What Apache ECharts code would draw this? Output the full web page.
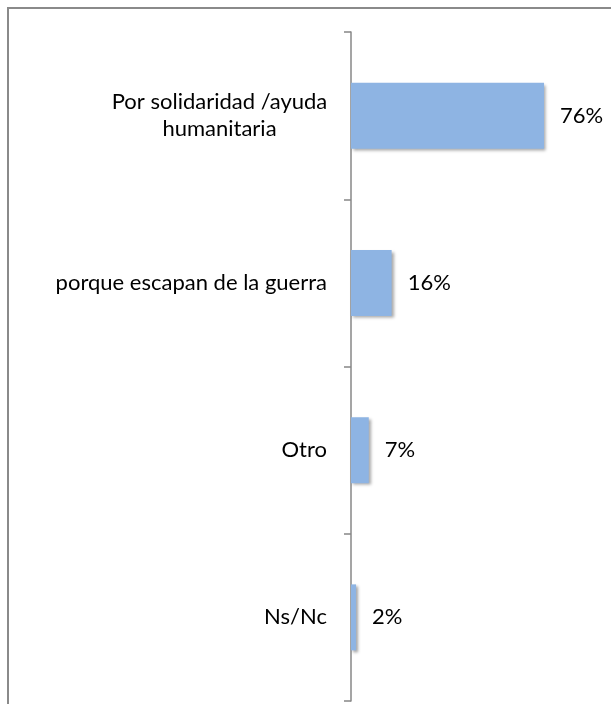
<!DOCTYPE html>
<html>
<head>
<meta charset="utf-8">
<script src="https://cdn.jsdelivr.net/npm/echarts@6/dist/echarts.min.js"></script>
<style>
  html, body { margin: 0; padding: 0; background: #fff; }
  #chart { width: 611px; height: 704px; }
</style>
</head>
<body>
<div id="chart"></div>
<script>
// data
const categories = ['Por solidaridad /ayuda\nhumanitaria', 'porque escapan de la guerra', 'Otro', 'Ns/Nc'];
const values = [76, 16, 7, 2];

const chart = echarts.init(document.getElementById('chart'));
const font = 'Lato';

const option = {
  animation: false,
  graphic: [
    {
      type: 'rect',
      shape: { x: 8, y: 8, width: 800, height: 900 },
      style: { fill: 'none', stroke: '#8a8a8a', lineWidth: 2 }
    }
  ],
  grid: { left: 351, right: 6, top: 32, bottom: 3 },
  xAxis: {
    type: 'value',
    min: 0,
    max: 100,
    show: false
  },
  yAxis: {
    type: 'category',
    inverse: true,
    data: categories,
    axisLine: { show: true, lineStyle: { color: '#878787', width: 1.5 } },
    axisTick: { show: true, alignWithLabel: false, length: 7, lineStyle: { color: '#878787', width: 1.5 } },
    axisLabel: {
      margin: 24,
      fontFamily: font,
      fontSize: 22,
      color: '#000',
      lineHeight: 27,
      formatter: function (v) {
        if (v.indexOf('\n') >= 0) {
          return v.split('\n').map(s => '{c|' + s + '}').join('\n');
        }
        return v;
      },
      rich: {
        c: { width: 215, align: 'center', fontFamily: font, fontSize: 22, color: '#000', lineHeight: 27 }
      }
    }
  },
  series: [
    {
      type: 'bar',
      data: values,
      barWidth: 66,
      itemStyle: {
        color: '#8eb4e3',
        shadowColor: 'rgba(0,0,0,0.35)',
        shadowBlur: 3,
        shadowOffsetX: 2,
        shadowOffsetY: 2
      },
      label: {
        show: true,
        position: 'right',
        distance: 16,
        fontFamily: font,
        fontSize: 22,
        color: '#000',
        formatter: '{c}%'
      }
    }
  ]
};

chart.setOption(option);
</script>
</body>
</html>
